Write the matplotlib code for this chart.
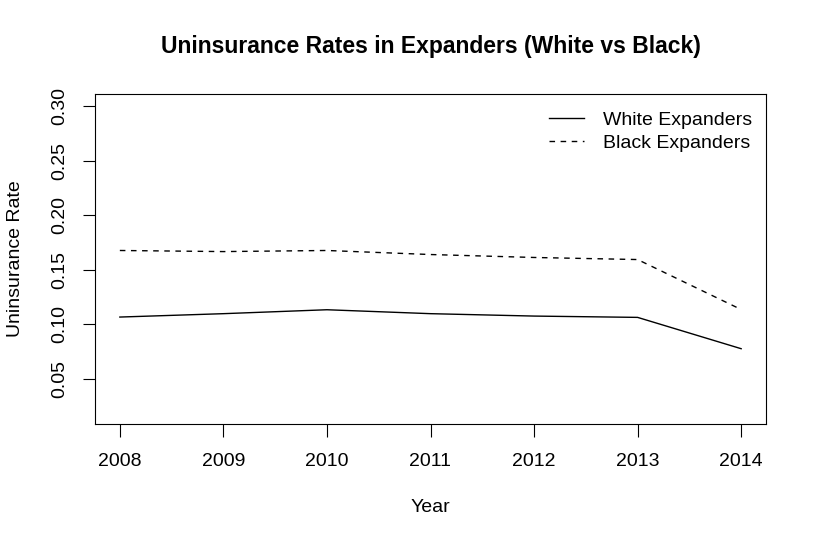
import numpy as np
from matplotlib import pyplot as plt

# === DATA ===
years = [2008, 2009, 2010, 2011, 2012, 2013, 2014]
white_rate = [0.1068, 0.1099, 0.1135, 0.1099, 0.1077, 0.1065, 0.0778]
black_rate = [0.1678, 0.1668, 0.1678, 0.1641, 0.1614, 0.1595, 0.1137]
y_ticks = [0.05, 0.10, 0.15, 0.20, 0.25, 0.30]

plt.rcParams['font.family'] = ['Liberation Sans', 'DejaVu Sans']

fig = plt.figure(figsize=(8.14, 5.42), dpi=100)
ax = fig.add_axes([95 / 814, 118 / 542, 671 / 814, 330 / 542])

ax.plot(years, white_rate, color='black', lw=1.0, ls='-', label='White Expanders')
ax.plot(years, black_rate, color='black', lw=1.0, ls=(0, (4, 4)), label='Black Expanders')

# R style axis ranges (4% padding)
ax.set_xlim(2008 - 0.24, 2014 + 0.24)
ax.set_ylim(0.02 - 0.0112, 0.30 + 0.0112)

ax.set_xticks(years)
ax.set_xticklabels([str(y) for y in years], fontsize=14)
ax.set_yticks(y_ticks)
ax.set_yticklabels(['%.2f' % v for v in y_ticks], fontsize=14, rotation=90, va='center')
ax.tick_params(axis='both', length=9, width=0.8, direction='out')
ax.tick_params(axis='x', pad=12)
ax.tick_params(axis='y', pad=10)

for s in ax.spines.values():
    s.set_linewidth(0.8)

ax.set_xlabel('Year', fontsize=14, labelpad=21)
ax.set_ylabel('Uninsurance Rate', fontsize=14, labelpad=20)
# title centred over the plot region, like R
fig.text((95 + 766) / 2 / 814, 1 - 47 / 542, 'Uninsurance Rates in Expanders (White vs Black)',
         ha='center', va='center', fontsize=16.5, fontweight='bold')

ax.legend(loc='upper right', frameon=False, fontsize=14, handlelength=1.8,
          handletextpad=1.0, labelspacing=0.25, borderaxespad=0.4,
          bbox_to_anchor=(1.003, 0.994))

fig.savefig('out.png', dpi=100)
